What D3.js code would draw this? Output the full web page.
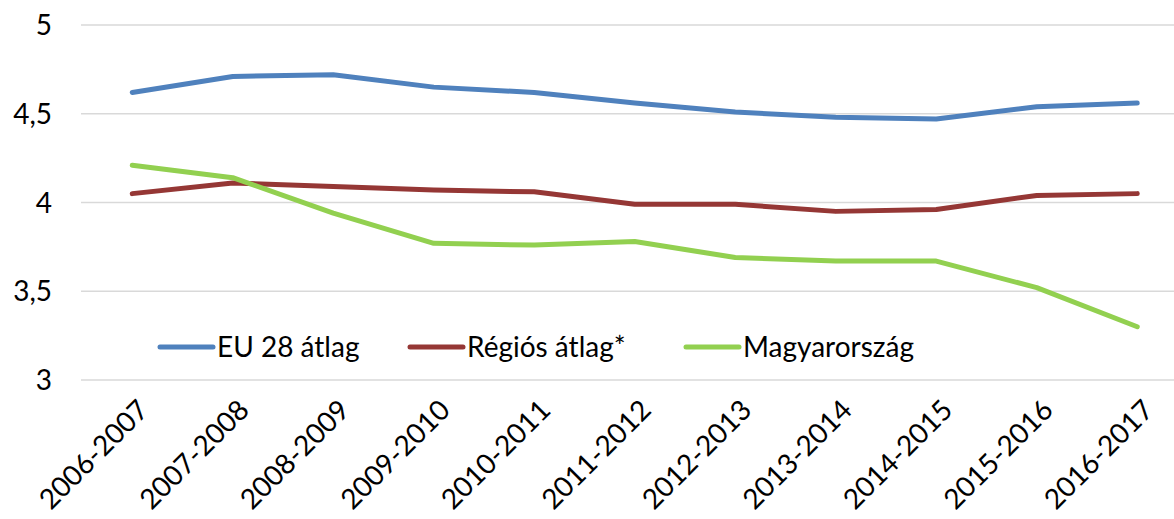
<!DOCTYPE html>
<html>
<head>
<meta charset="utf-8">
<script src="https://cdn.jsdelivr.net/npm/d3@7"></script>
<style>
  body { margin: 0; background: #fff; }
  text { font-family: Lato, "Open Sans", sans-serif; fill: #000; }
</style>
</head>
<body>
<div id="chart-area"></div>
<script>
const categories = ["2006-2007", "2007-2008", "2008-2009", "2009-2010", "2010-2011", "2011-2012",
                    "2012-2013", "2013-2014", "2014-2015", "2015-2016", "2016-2017"]
const euValues = [4.62, 4.71, 4.72, 4.65, 4.62, 4.56, 4.51, 4.48, 4.47, 4.54, 4.56]
const regionValues = [4.05, 4.11, 4.09, 4.07, 4.06, 3.99, 3.99, 3.95, 3.96, 4.04, 4.05]
const huValues = [4.21, 4.14, 3.94, 3.77, 3.76, 3.78, 3.69, 3.67, 3.67, 3.52, 3.30]
const yTicks = [3, 3.5, 4, 4.5, 5]

const series = [
  { name: "EU 28 átlag", values: euValues, color: "#4f81bd" },
  { name: "Régiós átlag*", values: regionValues, color: "#953735" },
  { name: "Magyarország", values: huValues, color: "#92d050" }
]

const W = 1174, H = 519
const svg = d3.select("#chart-area").append("svg")
  .attr("width", W)
  .attr("height", H)

// band scale runs past the right edge, like the cropped original
const x = d3.scaleBand()
  .domain(categories)
  .range([82, 82 + 100.5 * categories.length])

const y = d3.scaleLinear()
  .domain([3, 5])
  .range([380, 25])

// gridlines
svg.append("g")
  .selectAll("line")
  .data(yTicks)
  .enter().append("line")
  .attr("x1", 81)
  .attr("x2", W)
  .attr("y1", d => y(d))
  .attr("y2", d => y(d))
  .attr("stroke", "#d9d9d9")
  .attr("stroke-width", 1.5)

// y axis labels
const yAxis = d3.axisLeft(y)
  .tickValues(yTicks)
  .tickSize(0)
  .tickPadding(0)
  .tickFormat(d => String(d).replace(".", ","))
svg.append("g")
  .attr("transform", "translate(52,0)")
  .call(yAxis)
  .call(g => g.select(".domain").remove())
  .selectAll("text")
  .attr("font-size", "28px")
  .attr("font-family", "Lato, sans-serif")
  .attr("fill", "#000")
  .attr("dy", "0.34em")

// x axis labels, rotated
const xAxis = d3.axisBottom(x).tickSize(0).tickPadding(0)
svg.append("g")
  .attr("transform", "translate(0,398)")
  .call(xAxis)
  .call(g => g.select(".domain").remove())
  .selectAll("text")
  .attr("font-size", "28px")
  .attr("font-family", "Lato, sans-serif")
  .attr("fill", "#000")
  .attr("text-anchor", "end")
  .attr("dy", "0.7em")
  .attr("transform", "translate(4,0) rotate(-45)")

// lines
const line = d3.line()
  .x((d, i) => x(categories[i]) + x.bandwidth() / 2)
  .y(d => y(d))

svg.append("g")
  .selectAll("path")
  .data(series)
  .enter().append("path")
  .attr("d", d => line(d.values))
  .attr("fill", "none")
  .attr("stroke", d => d.color)
  .attr("stroke-width", 5)
  .attr("stroke-linecap", "round")
  .attr("stroke-linejoin", "round")

// legend
const legendX = [160, 410, 686]
const legend = svg.append("g")
  .selectAll("g")
  .data(series)
  .enter().append("g")
  .attr("transform", (d, i) => `translate(${legendX[i]},347)`)

legend.append("line")
  .attr("x1", 0)
  .attr("x2", 53)
  .attr("stroke", d => d.color)
  .attr("stroke-width", 5)
  .attr("stroke-linecap", "round")

legend.append("text")
  .attr("x", 57)
  .attr("dy", "0.35em")
  .attr("font-size", "28px")
  .text(d => d.name)
</script>
</body>
</html>
